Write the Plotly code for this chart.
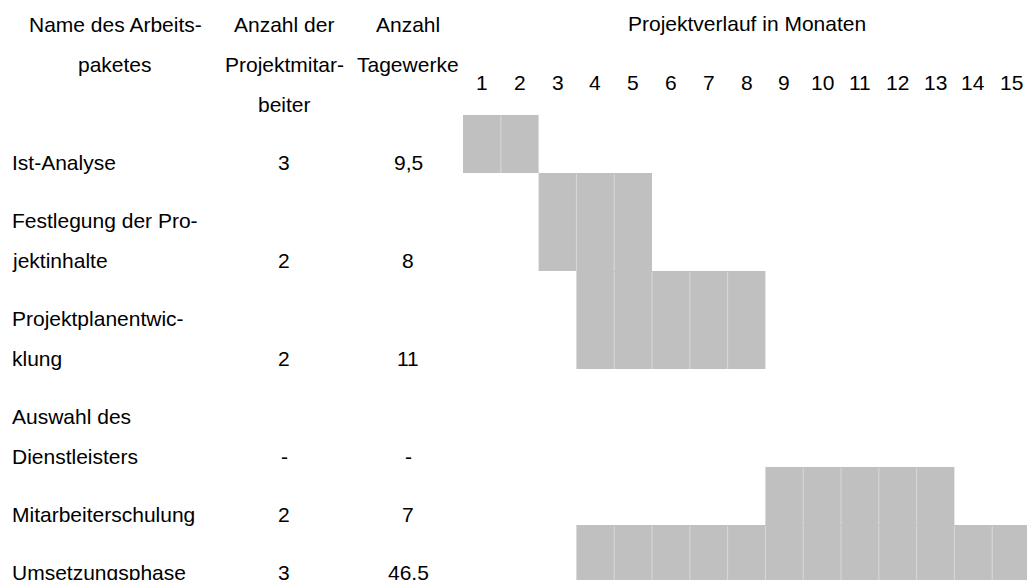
import plotly.graph_objects as go

# Work packages (label lines), staff count, person-days, month span
packages = [
    ["Ist-Analyse"],
    ["Festlegung der Pro-", "jektinhalte"],
    ["Projektplanentwic-", "klung"],
    ["Auswahl des", "Dienstleisters"],
    ["Mitarbeiterschulung"],
    ["Umsetzungsphase"],
]
staff = ["3", "2", "2", "-", "2", "3"]
person_days = ["9,5", "8", "11", "-", "7", "46.5"]
start_month = [1, 3, 4, None, 9, 4]
end_month = [2, 5, 8, None, 13, 15]
months = list(range(1, 16))

header_name = ["Name des Arbeits-", "paketes"]
header_staff = ["Anzahl der", "Projektmitar-", "beiter"]
header_days = ["Anzahl", "Tagewerke"]
timeline_title = "Projektverlauf in Monaten"

# Page geometry (pixels)
W, H = 1027, 580
MONTH_PX = 37.8
GANTT_LEFT = 463
FIRST_ROW_TOP = 115
ROW_BASE = 58
LINE = 40
FONT = dict(family="Liberation Sans, Arial, sans-serif", size=21, color="#000000")
BAR_COLOR = "#c0c0c0"
SEP_COLOR = "#d9d9d9"

# Row extents derived from the number of label lines
tops, bottoms = [], []
y = FIRST_ROW_TOP
for lines in packages:
    h = ROW_BASE + LINE * (len(lines) - 1)
    tops.append(y)
    bottoms.append(y + h)
    y += h

fig = go.Figure()

# Gantt bars
bx, bbase, by, bw = [], [], [], []
for s, e, t, b in zip(start_month, end_month, tops, bottoms):
    if s is None:
        continue
    bbase.append(s - 1)
    bx.append(e - s + 1)
    by.append((t + b) / 2)
    bw.append(b - t)
fig.add_trace(go.Bar(
    x=bx, base=bbase, y=by, width=bw, orientation="h",
    marker=dict(color=BAR_COLOR, line=dict(width=0)),
    hoverinfo="skip", showlegend=False,
))

# Faint month separators inside each bar
sx, sy = [], []
for s, e, t, b in zip(start_month, end_month, tops, bottoms):
    if s is None:
        continue
    for k in range(s, e):
        sx += [k, k, None]
        sy += [t + 1, b, None]
fig.add_trace(go.Scatter(
    x=sx, y=sy, mode="lines", line=dict(color=SEP_COLOR, width=1),
    hoverinfo="skip", showlegend=False,
))

ann = []

def px(xp):
    return xp / W

# Header
for i, txt in enumerate(header_name):
    ann.append(dict(text=txt, x=px(115), y=24 + LINE * i, xanchor="center"))
for i, txt in enumerate(header_staff):
    ann.append(dict(text=txt, x=px(284), y=24 + LINE * i, xanchor="center"))
for i, txt in enumerate(header_days):
    ann.append(dict(text=txt, x=px(408), y=24 + LINE * i, xanchor="center"))
ann.append(dict(text=timeline_title, x=px(747), y=23, xanchor="center"))

# Table rows
for lines, st, pd_, b in zip(packages, staff, person_days, bottoms):
    last = b - 11
    n = len(lines)
    for i, txt in enumerate(lines):
        ann.append(dict(text=txt, x=px(10), y=last - LINE * (n - 1 - i), xanchor="left"))
    ann.append(dict(text=st, x=px(284), y=last, xanchor="center"))
    ann.append(dict(text=pd_, x=px(408), y=last, xanchor="center"))

annotations = []
for a in ann:
    a.update(xref="paper", yref="y", yanchor="middle", showarrow=False, font=FONT)
    annotations.append(a)

# Month numbers on the timeline scale
for m in months:
    annotations.append(dict(text=str(m), x=m - 0.5, y=82, xref="x", yref="y",
                            xanchor="center", yanchor="middle", showarrow=False, font=FONT))

x0 = -GANTT_LEFT / MONTH_PX
x1 = (W - GANTT_LEFT) / MONTH_PX

fig.update_layout(
    width=W, height=H,
    margin=dict(l=0, r=0, t=0, b=0),
    paper_bgcolor="white", plot_bgcolor="white",
    xaxis=dict(range=[x0, x1], visible=False, fixedrange=True),
    yaxis=dict(range=[H, 0], visible=False, fixedrange=True),
    annotations=annotations,
    showlegend=False,
)

fig.write_html("out.html", config={"displayModeBar": False})
